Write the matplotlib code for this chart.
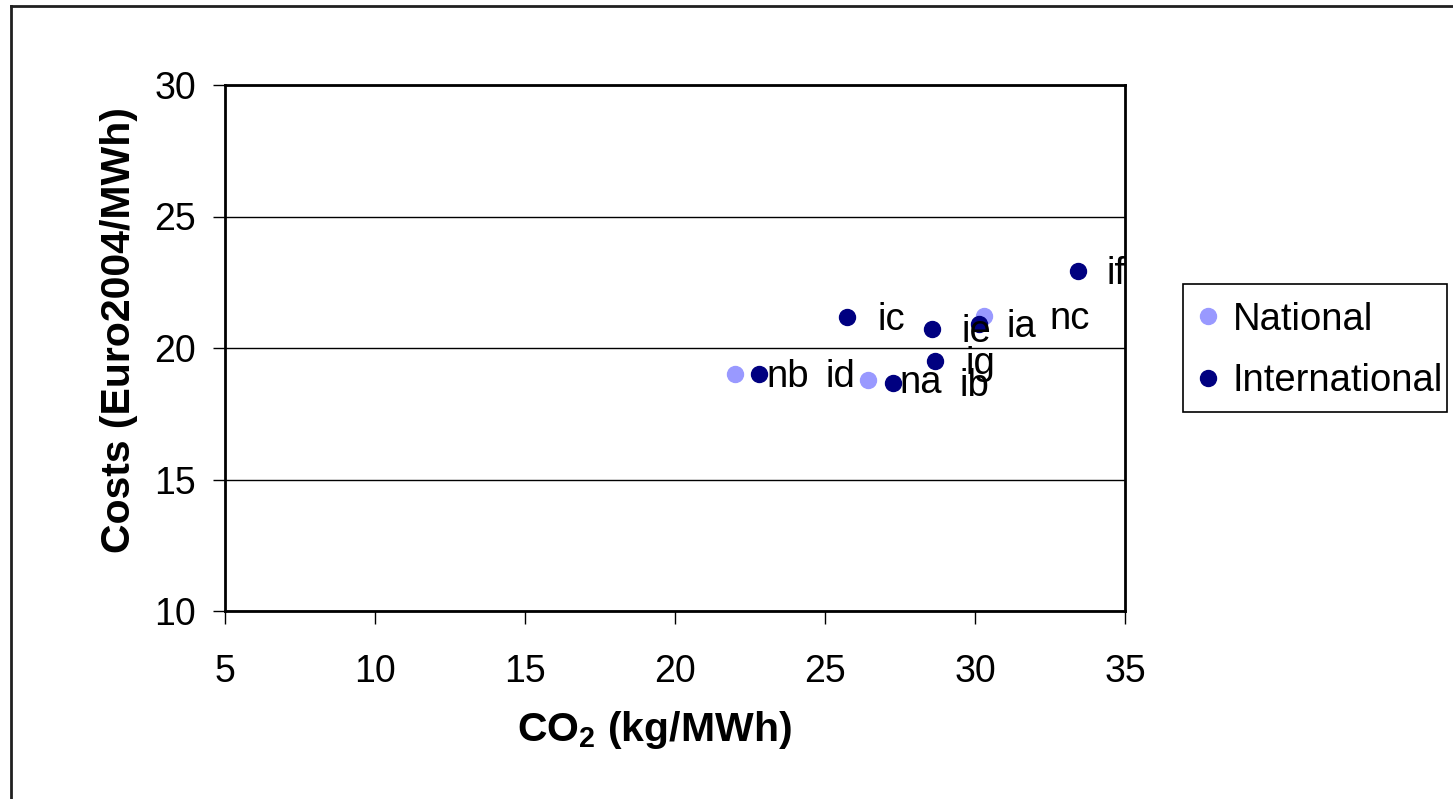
import matplotlib
matplotlib.use("Agg")
import matplotlib.pyplot as plt
from matplotlib.lines import Line2D
from matplotlib.patches import Rectangle

plt.rcParams['font.family'] = ['Liberation Sans', 'DejaVu Sans']

# CO2 emissions (kg/MWh) and costs (Euro2004/MWh) per scenario
national_co2 = [22.0, 26.44, 30.30]
national_cost = [19.01, 18.78, 21.22]
national_labels = ["nb", "na", "nc"]

international_co2 = [30.12, 27.26, 25.74, 22.81, 28.58, 28.68, 33.42]
international_cost = [20.91, 18.68, 21.19, 19.01, 20.73, 19.52, 22.92]
international_labels = ["ia", "ib", "ic", "id", "ie", "ig", "if"]

x_ticks = [5, 10, 15, 20, 25, 30, 35]
y_ticks = [10, 15, 20, 25, 30]

national_color = "#9999FF"
international_color = "#000080"

# horizontal label offsets in pixels (some labels sit further to the right)
national_dx = [31, 31, 65]
international_dx = [28, 67, 30, 66, 29, 30, 29]

W, H = 1453, 799
fig = plt.figure(figsize=(W / 100, H / 100), dpi=100)
ax = fig.add_axes([225 / W, 1 - 611 / H, 900 / W, 526 / H])

ax.plot(national_co2, national_cost, linestyle="none", marker="o",
        markersize=11.5, color=national_color, label="National", zorder=3)
ax.plot(international_co2, international_cost, linestyle="none", marker="o",
        markersize=11.5, color=international_color, label="International", zorder=3)

for xs, ys, labs, dxs in [(national_co2, national_cost, national_labels, national_dx),
                           (international_co2, international_cost, international_labels, international_dx)]:
    for xv, yv, lab, dx in zip(xs, ys, labs, dxs):
        ax.annotate(lab, (xv, yv), xytext=(dx, -3), textcoords="offset pixels",
                    ha="left", va="center", fontsize=27.5, color="black", zorder=4)

ax.set_xlim(5, 35)
ax.set_ylim(10, 30)
ax.set_xticks(x_ticks)
ax.set_yticks(y_ticks)
ax.tick_params(axis="both", direction="out", length=9, width=1, labelsize=27,
               color="black")
ax.tick_params(axis="x", pad=22)
ax.tick_params(axis="y", pad=12)

ax.yaxis.grid(True, color="black", linewidth=1)
ax.set_axisbelow(True)
for sp in ax.spines.values():
    sp.set_color("black")
    sp.set_linewidth(2)

ax.set_xlabel("CO$_\\mathregular{2}$ (kg/MWh)", fontsize=29.5, fontweight="bold")
ax.set_ylabel("Costs (Euro2004/MWh)", fontsize=29.5, fontweight="bold")
ax.xaxis.set_label_coords(0.477, -0.186)
ax.yaxis.set_label_coords(-0.097, 0.535)

# legend entries without their own frame; the box is drawn separately
leg = fig.legend(loc="center left", bbox_to_anchor=(1198.5 / W, 1 - 350.5 / H),
                 fontsize=27.5, frameon=False, handletextpad=0.4,
                 borderpad=0.0, labelspacing=0.67, handlelength=0.5,
                 borderaxespad=0.0, numpoints=1)
for h in leg.legend_handles:
    h.set_markersize(11.5)
fig.add_artist(Rectangle((1183 / W, 1 - 412 / H), 264 / W, 128 / H,
                         transform=fig.transFigure, facecolor="none",
                         edgecolor="black", linewidth=1.2))

# outer chart border (top and left edges)
fig.add_artist(Line2D([11 / W, 1.0], [1 - 6 / H, 1 - 6 / H],
                      transform=fig.transFigure, color="#202020", linewidth=2))
fig.add_artist(Line2D([11 / W, 11 / W], [0.0, 1 - 6 / H],
                      transform=fig.transFigure, color="#202020", linewidth=2))

fig.savefig("out.png", dpi=100, facecolor="white")
